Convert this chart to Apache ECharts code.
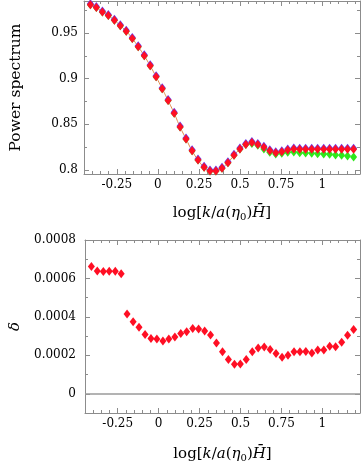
<!DOCTYPE html>
<html>
<head>
<meta charset="utf-8">
<script src="https://cdn.jsdelivr.net/npm/echarts@6/dist/echarts.min.js"></script>
<style>
  html, body { margin: 0; padding: 0; background: #fff; }
  #chart { width: 361px; height: 464px; }
</style>
</head>
<body>
<div id="chart"></div>
<script>
"use strict";

// sample points, log[k / a(eta0) H], shared by both panels
const logK = [
  -0.411, -0.375, -0.338, -0.302, -0.265, -0.229, -0.193, -0.156, -0.120, -0.083,
  -0.047, -0.011, 0.026, 0.062, 0.099, 0.135, 0.171, 0.208, 0.244, 0.281,
  0.317, 0.353, 0.390, 0.426, 0.463, 0.499, 0.535, 0.572, 0.608, 0.645,
  0.681, 0.717, 0.754, 0.790, 0.827, 0.863, 0.899, 0.936, 0.972, 1.009,
  1.045, 1.081, 1.118, 1.154, 1.191
];

// power spectrum, red points (also the thin orange curve)
const specRed = [
  0.981, 0.978, 0.973, 0.969, 0.964, 0.958, 0.952, 0.944, 0.935, 0.925,
  0.914, 0.902, 0.889, 0.876, 0.862, 0.847, 0.834, 0.821, 0.811, 0.803,
  0.799, 0.799, 0.802, 0.808, 0.816, 0.823, 0.828, 0.830, 0.828, 0.825,
  0.821, 0.819, 0.820, 0.822, 0.823, 0.8226, 0.8226, 0.8226, 0.8226, 0.8226,
  0.8226, 0.8226, 0.8226, 0.8226, 0.8226
];

// green points, drift below the red ones at large k
const specGreen = [
  0.981, 0.978, 0.973, 0.969, 0.964, 0.958, 0.952, 0.944, 0.935, 0.925,
  0.914, 0.902, 0.889, 0.876, 0.862, 0.847, 0.834, 0.821, 0.811, 0.803,
  0.799, 0.799, 0.802, 0.808, 0.816, 0.823, 0.828, 0.829, 0.827, 0.823,
  0.8194, 0.8175, 0.8183, 0.8194, 0.8197, 0.8189, 0.8186, 0.8183, 0.8178, 0.8175,
  0.8172, 0.8164, 0.816, 0.8153, 0.8142
];

// blue points sit right under the red ones
const specBlue = specRed.slice();

// delta
const delta = [
  6.62e-4, 6.39e-4, 6.36e-4, 6.37e-4, 6.37e-4, 6.24e-4, 4.15e-4, 3.75e-4, 3.46e-4, 3.09e-4,
  2.87e-4, 2.85e-4, 2.75e-4, 2.85e-4, 2.95e-4, 3.13e-4, 3.23e-4, 3.40e-4, 3.37e-4, 3.26e-4,
  3.06e-4, 2.64e-4, 2.18e-4, 1.78e-4, 1.54e-4, 1.55e-4, 1.78e-4, 2.18e-4, 2.38e-4, 2.44e-4,
  2.30e-4, 2.09e-4, 1.90e-4, 2.01e-4, 2.18e-4, 2.18e-4, 2.20e-4, 2.12e-4, 2.28e-4, 2.28e-4,
  2.47e-4, 2.45e-4, 2.68e-4, 3.04e-4, 3.34e-4
];

// tick labels
const xTicks = [-0.25, 0, 0.25, 0.5, 0.75, 1];
const specTicks = [0.8, 0.85, 0.9, 0.95];
const deltaTicks = [0, 0.0002, 0.0004, 0.0006, 0.0008];

const FONT = "DejaVu Serif";
const FRAME = "#8c8c8c";

// minor tick positions
function steps(from, to, step) {
  let out = [];
  for (let i = 0; from + i * step <= to + 1e-12; i++) {
    out.push(+(from + i * step).toFixed(6));
  }
  return out;
}
const xMinor = steps(-0.45, 1.2, 0.05);
const specMinor = steps(0.8, 0.975, 0.025);
const deltaMinor = steps(-0.0001, 0.0008, 0.0001);

// four axes per side pair: labelled side + its minor ticks, opposite side + its minor ticks
function frameAxes(dim, grid, min, max, major, minor, fmt, margin) {
  let sides = dim === "x" ? ["bottom", "top"] : ["left", "right"];
  let list = [];
  sides.forEach(function(pos, k) {
    [major, minor].forEach(function(ticks, m) {
      list.push({
        type: "value",
        gridIndex: grid,
        position: pos,
        min: min,
        max: max,
        axisLine: { show: m === 0, onZero: false, lineStyle: { color: FRAME, width: 1 } },
        axisTick: {
          show: true, inside: true, length: m === 0 ? 5 : 3,
          customValues: ticks, lineStyle: { color: FRAME }
        },
        axisLabel: {
          show: k === 0 && m === 0,
          customValues: major,
          formatter: fmt,
          fontFamily: FONT,
          fontSize: 12,
          color: "#000",
          margin: margin
        },
        splitLine: { show: false }
      });
    });
  });
  return list;
}

const xFmt = function(v) { return String(+v.toFixed(2)); };
const specFmt = function(v) { return String(+v.toFixed(2)); };
const deltaFmt = function(v) { return v === 0 ? "0" : v.toFixed(4); };

let xAxes = frameAxes("x", 0, -0.45, 1.23, xTicks, xMinor, xFmt, 5)
  .concat(frameAxes("x", 1, -0.45, 1.23, xTicks, xMinor, xFmt, 5));
let yAxes = frameAxes("y", 0, 0.7956, 0.985, specTicks, specMinor, specFmt, 6)
  .concat(frameAxes("y", 1, -0.0001, 0.0008, deltaTicks, deltaMinor, deltaFmt, 9));

// axis titles
const richTitle = {
  n: { fontFamily: FONT, fontSize: 15, color: "#000" },
  i: { fontFamily: FONT, fontSize: 15, fontStyle: "italic", color: "#000" },
  s: { fontFamily: FONT, fontSize: 10, color: "#000", verticalAlign: "bottom", padding: [8, 0, 0, 0] }
};
const kTitle = "{n|log[}{i|k}{n|/}{i|a}{n|(}{i|η}{s|0}{n|)}{i|H\u0304}{n|]}";

[0, 4].forEach(function(idx, g) {
  xAxes[idx].name = kTitle;
  xAxes[idx].nameLocation = "middle";
  xAxes[idx].nameGap = g === 0 ? 30 : 32;
  xAxes[idx].nameTextStyle = { rich: richTitle };
});
yAxes[0].name = "Power spectrum";
yAxes[0].nameLocation = "middle";
yAxes[0].nameGap = 60;
yAxes[0].nameTextStyle = { fontFamily: FONT, fontSize: 15.5, color: "#000" };
yAxes[4].name = "δ";
yAxes[4].nameLocation = "middle";
yAxes[4].nameGap = 62;
yAxes[4].nameTextStyle = { fontFamily: FONT, fontSize: 15, fontStyle: "italic", color: "#000" };

function pairs(ys) {
  return logK.map(function(x, i) { return [x, ys[i]]; });
}

const diamond = { symbol: "diamond", symbolSize: [7, 9] };

let option = {
  animation: false,
  backgroundColor: "#fff",
  grid: [
    { left: 77, right: 1, top: 1, height: 173 },
    { left: 79, right: 1, top: 240, height: 173 }
  ],
  xAxis: xAxes,
  yAxis: yAxes,
  series: [
    {
      type: "line", xAxisIndex: 0, yAxisIndex: 0, data: pairs(specRed),
      smooth: true, showSymbol: false, z: 1,
      lineStyle: { color: "#e0884a", width: 1 }
    },
    Object.assign({
      type: "scatter", xAxisIndex: 0, yAxisIndex: 0, data: pairs(specGreen), z: 2,
      itemStyle: { color: "#2ee81c", opacity: 1 }
    }, diamond),
    Object.assign({
      type: "scatter", xAxisIndex: 0, yAxisIndex: 0, data: pairs(specBlue), z: 3,
      symbolOffset: [0, -1], itemStyle: { color: "#6a3cf0", opacity: 1 }
    }, diamond),
    Object.assign({
      type: "scatter", xAxisIndex: 0, yAxisIndex: 0, data: pairs(specRed), z: 4,
      itemStyle: { color: "#ff0f24", opacity: 1 }
    }, diamond),
    Object.assign({
      type: "scatter", xAxisIndex: 4, yAxisIndex: 4, data: pairs(delta), z: 4,
      itemStyle: { color: "#ff0f24", opacity: 1 },
      markLine: {
        silent: true, symbol: "none", label: { show: false },
        lineStyle: { color: "#9a9a9a", width: 1.5, type: "solid" },
        data: [{ yAxis: 0 }]
      }
    }, diamond)
  ]
};

let chart = echarts.init(document.getElementById("chart"), null, { renderer: "canvas" });
chart.setOption(option);
</script>
</body>
</html>
